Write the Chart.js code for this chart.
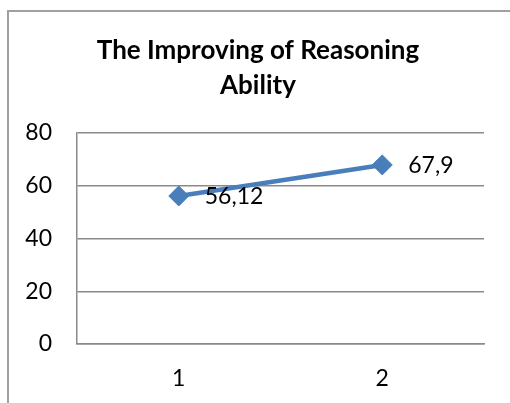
<!DOCTYPE html>
<html>
<head>
<meta charset="utf-8">
<script src="https://cdn.jsdelivr.net/npm/chart.js@4/dist/chart.umd.min.js"></script>
<style>
  html, body { margin: 0; padding: 0; background: #ffffff; overflow: hidden; }
  canvas { display: block; }
</style>
</head>
<body>
<canvas id="chart" width="510" height="403"></canvas>
<script>
// Chart data
const categories = ['1', '2'];
const reasoningScores = [56.12, 67.9];
const yTicks = [0, 20, 40, 60, 80];
const chartTitle = ['The Improving of Reasoning', 'Ability'];

const FONT = "Lato, 'Open Sans', sans-serif";

// Outer frame of the chart object (runs past the right and bottom edges)
const chartFrame = {
  id: 'chartFrame',
  beforeDraw(chart) {
    const ctx = chart.ctx;
    ctx.save();
    ctx.strokeStyle = '#a0a0a0';
    ctx.lineWidth = 2;
    ctx.beginPath();
    ctx.moveTo(8, chart.height + 5);
    ctx.lineTo(8, 11);
    ctx.lineTo(chart.width + 5, 11);
    ctx.stroke();
    ctx.restore();
  }
};

// Writes each point's value beside its marker, with a decimal comma
const valueLabels = {
  id: 'valueLabels',
  afterDatasetsDraw(chart) {
    const ctx = chart.ctx;
    const meta = chart.getDatasetMeta(0);
    const values = chart.data.datasets[0].data;
    ctx.save();
    ctx.font = '23px ' + FONT;
    ctx.fillStyle = '#000000';
    ctx.textAlign = 'left';
    ctx.textBaseline = 'middle';
    meta.data.forEach((pt, i) => {
      const text = String(values[i]).replace('.', ',');
      ctx.fillText(text, pt.x + 26, pt.y + 1);
    });
    ctx.restore();
  }
};

new Chart(document.getElementById('chart'), {
  type: 'line',
  data: {
    labels: categories,
    datasets: [{
      data: reasoningScores,
      borderColor: '#4A7EBB',
      backgroundColor: '#4A7EBB',
      borderWidth: 4.5,
      pointStyle: 'rectRot',
      pointRadius: 10,
      pointBorderWidth: 1,
      pointBorderColor: '#4A7EBB',
      pointBackgroundColor: '#4A7EBB',
      tension: 0,
      fill: false
    }]
  },
  options: {
    responsive: false,
    animation: false,
    events: [],
    layout: { padding: { left: 6, right: 0, top: 0, bottom: 0 } },
    plugins: {
      legend: { display: false },
      tooltip: { enabled: false },
      title: {
        display: true,
        text: chartTitle,
        color: '#000000',
        font: { family: FONT, size: 26, weight: 'bold', lineHeight: 35 / 26 },
        padding: { top: 33, bottom: 30 }
      }
    },
    scales: {
      x: {
        offset: true,
        grid: { display: false, drawTicks: false },
        border: { display: true, color: '#8a8a8a', width: 1.5 },
        ticks: { color: '#000000', font: { family: FONT, size: 23 }, padding: 21 },
        afterFit(scale) { scale.height = 59; }
      },
      y: {
        min: 0,
        max: 80,
        afterBuildTicks(scale) { scale.ticks = yTicks.map(v => ({ value: v })); },
        grid: { color: '#8a8a8a', lineWidth: 1.5, drawTicks: false },
        border: { display: true, color: '#8a8a8a', width: 1.5 },
        ticks: { color: '#000000', font: { family: FONT, size: 23 }, padding: 25 },
        afterFit(scale) { scale.width = 71; }
      },
      // blank margin to the right of the plot area
      yRight: {
        position: 'right',
        grid: { display: false, drawTicks: false },
        border: { display: false },
        ticks: { display: false },
        afterFit(scale) { scale.width = 26; }
      }
    }
  },
  plugins: [chartFrame, valueLabels]
});
</script>
</body>
</html>
